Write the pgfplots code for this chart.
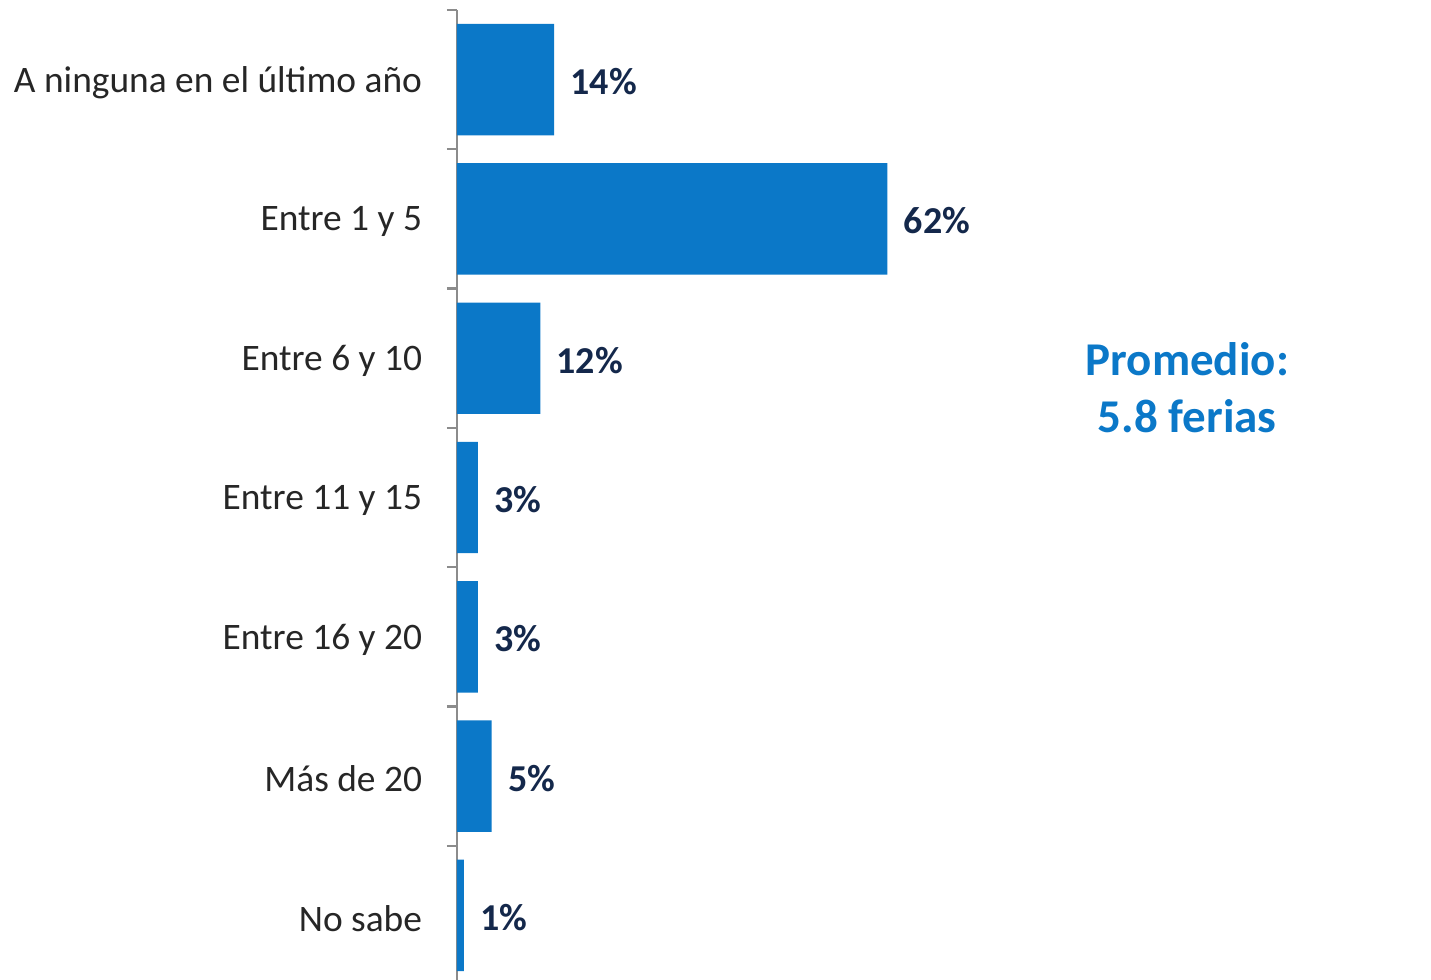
\documentclass[border=0pt]{standalone}
\usepackage{fontspec}
\setmainfont{Carlito}
\usepackage{pgfplots}
\pgfplotsset{compat=1.18}

\definecolor{barblue}{RGB}{11,120,200}
\definecolor{navy}{RGB}{20,40,75}
\definecolor{axisgray}{RGB}{140,140,140}
\definecolor{labgray}{RGB}{38,38,38}

\begin{document}
\begin{tikzpicture}
% page = 1431 x 980 px at 0.5pt per px
\path[use as bounding box] (0,0) rectangle (715.5pt,-490pt);
\begin{axis}[
  at={(228.5pt,-5pt)}, anchor=north west,
  scale only axis,
  width=487pt, height=487.5pt,
  xbar, bar width=0.8,
  xmin=0, xmax=140.3,
  ymin=-0.5, ymax=6.5,
  y dir=reverse,
  enlarge x limits=false, enlarge y limits=false,
  hide x axis,
  axis y line*=left,
  axis line style={draw=axisgray, line width=1.1pt},
  ytick={-0.5,0.5,...,6.5},
  yticklabels={},
  tick align=outside,
  major tick length=5pt,
  ytick style={draw=axisgray, line width=1.1pt},
  extra y ticks={0,1,2,3,4,5,6},
  extra y tick labels={A ninguna en el último año, Entre 1 y 5, Entre 6 y 10,
    Entre 11 y 15, Entre 16 y 20, Más de 20, No sabe},
  extra y tick style={major tick length=0pt,
    tick label style={inner sep=0pt, xshift=-17.3pt, yshift=-1.5pt}},
  y tick label style={font=\fontsize{18.7}{22}\selectfont, text=labgray},
  /pgf/number format/assume math mode=true,
  point meta=x,
  nodes near coords={\pgfmathprintnumber{\pgfplotspointmeta}\%},
  nodes near coords style={anchor=west, inner sep=0pt, xshift=8pt, yshift=-1pt,
    font=\fontsize{19}{22}\selectfont\bfseries, text=navy},
  clip=false,
]
\addplot[fill=barblue, draw=none] coordinates {
  (14,0) (62,1) (12,2) (3,3) (3,4) (5,5) (1,6)
};
\node[align=center, text=barblue, font=\fontsize{23.5}{28.5}\selectfont\bfseries]
  at (axis cs:105.2,2.21) {Promedio:\\5.8 ferias};
\end{axis}
\end{tikzpicture}
\end{document}
